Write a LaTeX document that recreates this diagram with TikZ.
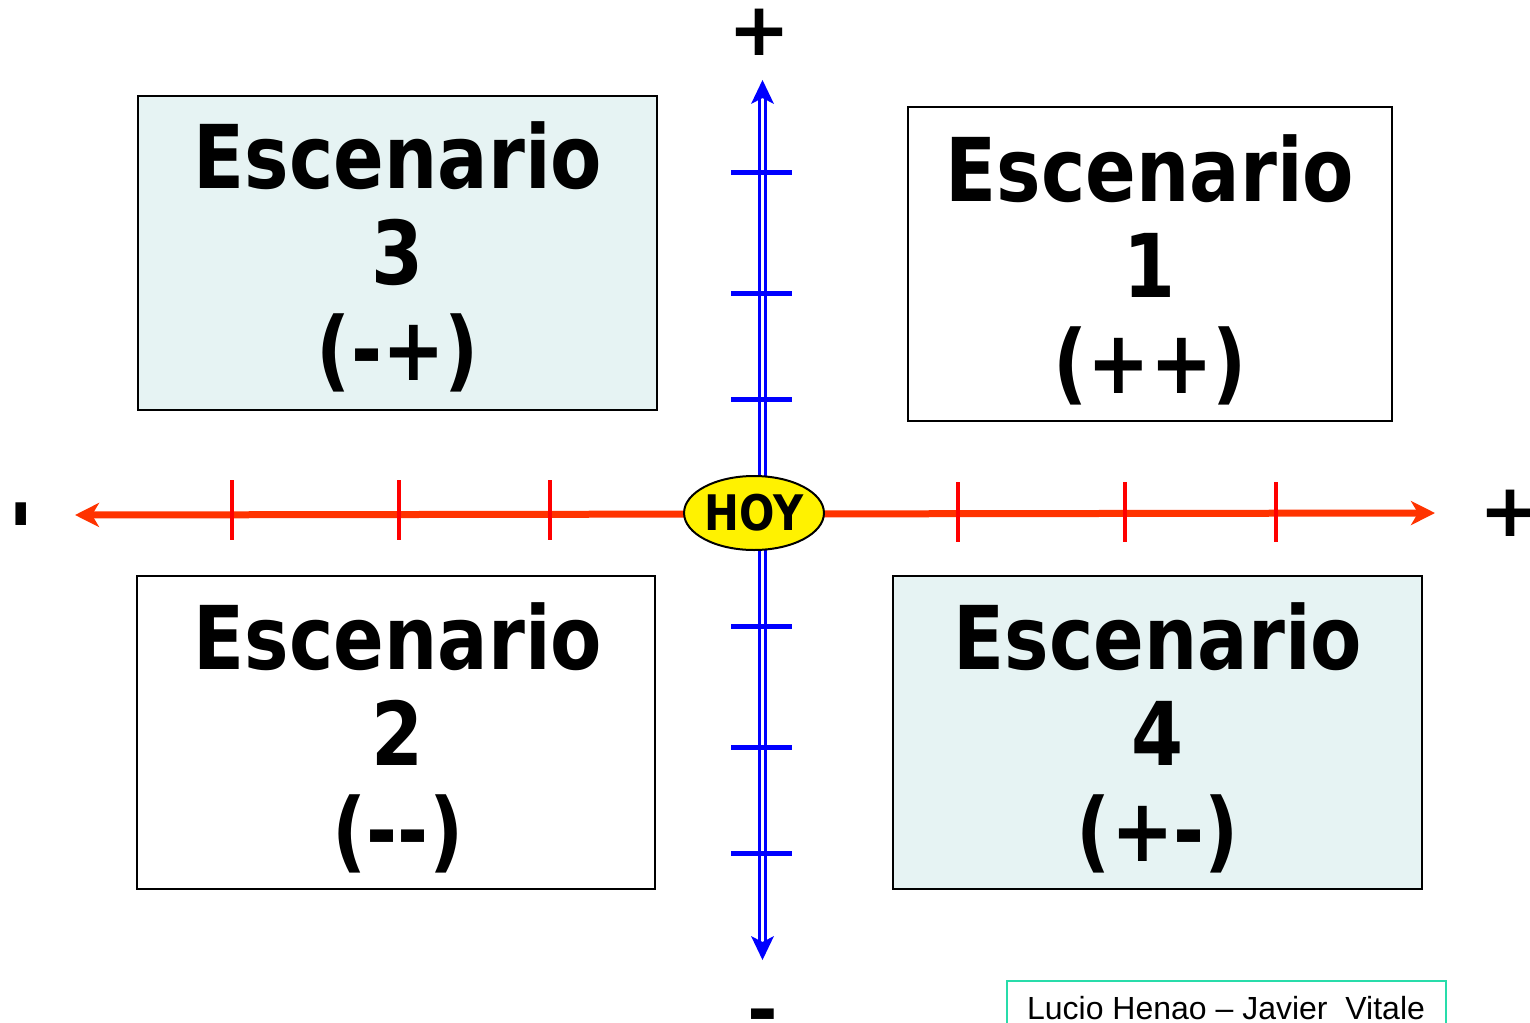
\documentclass[tikz,border=0pt]{standalone}
\usepackage{fontspec}
\usetikzlibrary{arrows.meta,shapes.geometric}
\newfontfamily\tah[FakeStretch=0.85]{DejaVu Sans}
\newfontfamily\signfont{DejaVu Sans}
\newfontfamily\arialf{Liberation Sans}
\definecolor{boxcyan}{RGB}{230,243,243}
\definecolor{axisred}{RGB}{255,51,0}
\definecolor{tickred}{RGB}{255,0,0}
\definecolor{axisblue}{RGB}{0,0,255}
\definecolor{credit}{RGB}{40,220,170}
\tikzset{
  scenbox/.style={draw=black, line width=1pt},
  scentext/.style={inner sep=0pt, align=center, font=\tah\bfseries\fontsize{44pt}{48pt}\selectfont},
  signtext/.style={inner sep=0pt, font=\signfont\bfseries\fontsize{37pt}{40pt}\selectfont},
  redtick/.style={draw=tickred, line width=2.4pt},
  bluetick/.style={draw=axisblue, line width=2.5pt},
}
\begin{document}
\begin{tikzpicture}[x=0.5pt,y=-0.5pt]
\useasboundingbox (0,0) rectangle (1530,1022);
% scenario boxes
\draw[scenbox, fill=boxcyan] (138,96) rectangle (657,410);
\draw[scenbox, fill=white] (908,107) rectangle (1392,421);
\draw[scenbox, fill=white] (137,576) rectangle (655,889);
\draw[scenbox, fill=boxcyan] (893,576) rectangle (1422,889);
\node[scentext] (s3) at (398,257) {Escenario\\3\\(-+)};
\node[scentext] (s1) at (1150,270) {Escenario\\1\\(++)};
\node[scentext] (s2) at (398,738) {Escenario\\2\\(--)};
\node[scentext] (s4) at (1158,738) {Escenario\\4\\(+-)};
% vertical axis (double blue)
\coordinate (vtop) at (762.5,80);
\coordinate (vbot) at (762.5,960);
\draw[axisblue, line width=1.4pt] (759.7,98) -- (759.7,942);
\draw[axisblue, line width=1.4pt] (765.3,98) -- (765.3,942);
\fill[axisblue] (vtop) -- ++(11.5,24) -- ++(-11.5,-6) -- ++(-11.5,6) -- cycle;
\fill[axisblue] (vbot) -- ++(11.5,-24) -- ++(-11.5,6) -- ++(-11.5,-6) -- cycle;
\foreach \y in {172,293,399,626,747,853}
  \draw[bluetick] (731,\y) -- (792,\y);
% horizontal axis
\coordinate (hleft) at (75,515);
\coordinate (hright) at (1435,513);
\draw[axisred, line width=3.5pt, {Stealth[length=12pt,width=12pt,inset=3.5pt]}-{Stealth[length=12pt,width=12pt,inset=3.5pt]}] (hleft) -- (hright);
\foreach \x in {232,399,550}
  \draw[redtick] (\x,480) -- (\x,540);
\foreach \x in {958,1125,1276}
  \draw[redtick] (\x,482) -- (\x,542);
% HOY
\node[ellipse, draw=black, line width=1pt, fill=yellow, minimum width=68pt, minimum height=37pt, inner sep=0pt,
      font=\tah\bfseries\fontsize{24.5pt}{26pt}\selectfont] (hoy) at (754,513) {HOY};
% signs
\node[signtext] (ptop) at (759,32) {+};
\node[signtext] (pright) at (1510,513) {+};
\node[signtext, rotate=90] (mleft) at (29,514.5) {-};
\node[signtext] (mbot) at (762.5,1022) {-};
% credit
\draw[credit, line width=1pt] (1007,981) rectangle (1446,1040);
\node[inner sep=0pt, anchor=base, font=\arialf\fontsize{16pt}{18pt}\selectfont] (cred) at (1226,1019) {Lucio Henao – Javier~~Vitale};
\end{tikzpicture}
\end{document}
